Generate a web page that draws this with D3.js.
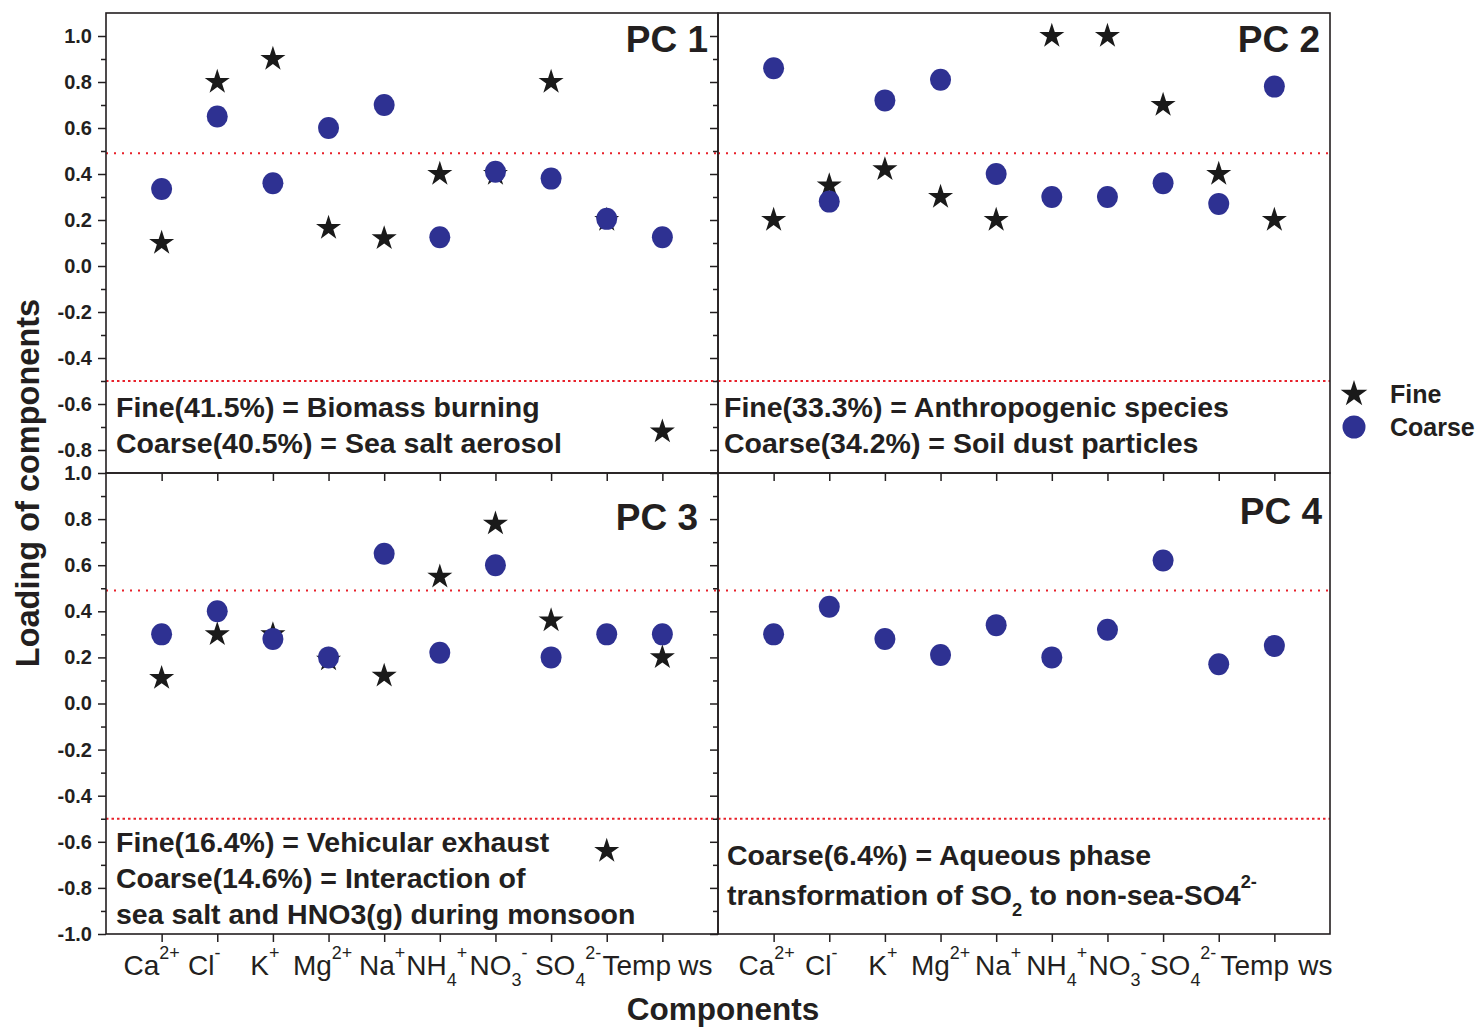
<!DOCTYPE html>
<html>
<head>
<meta charset="utf-8">
<script src="https://cdn.jsdelivr.net/npm/d3@7/dist/d3.min.js"></script>
<style>
  body { margin: 0; background: #fff; }
  text { font-family: Arial, 'Liberation Sans', sans-serif; fill: #231f20; }
</style>
</head>
<body>
<div id="canvas"></div>
<script>
// categories on the x axis (same for all four panels)
const categories = ['Ca2+', 'Cl-', 'K+', 'Mg2+', 'Na+', 'NH4+', 'NO3-', 'SO42-', 'Temp', 'ws'];
// rich tick labels: [text, 'sup' | 'sub' | undefined]
const tickLabels = [
  [['Ca'], ['2+', 'sup']],
  [['Cl'], ['-', 'sup']],
  [['K'], ['+', 'sup']],
  [['Mg'], ['2+', 'sup']],
  [['Na'], ['+', 'sup']],
  [['NH'], ['4', 'sub'], ['+', 'sup']],
  [['NO'], ['3', 'sub'], ['-', 'sup']],
  [['SO'], ['4', 'sub'], ['2-', 'sup']],
  [['Temp']],
  [['ws']]
];

// loadings
const pc1Fine   = [0.10, 0.80, 0.90, 0.165, 0.12, 0.40, 0.40, 0.80, 0.20, -0.72];
const pc1Coarse = [0.335, 0.65, 0.36, 0.60, 0.70, 0.125, 0.41, 0.38, 0.205, 0.125];
const pc2Fine   = [0.20, 0.35, 0.42, 0.30, 0.20, 1.00, 1.00, 0.70, 0.40, 0.20];
const pc2Coarse = [0.86, 0.28, 0.72, 0.81, 0.40, 0.30, 0.30, 0.36, 0.27, 0.78];
const pc3Fine   = [0.11, 0.30, 0.30, 0.19, 0.12, 0.55, 0.78, 0.36, -0.64, 0.20];
const pc3Coarse = [0.30, 0.40, 0.28, 0.20, 0.65, 0.22, 0.60, 0.20, 0.30, 0.30];
const pc4Coarse = [0.30, 0.42, 0.28, 0.21, 0.34, 0.20, 0.32, 0.62, 0.17, 0.25];

const pcTitles = ['PC 1', 'PC 2', 'PC 3', 'PC 4'];
const notes = [
  [[['Fine(41.5%) = Biomass burning']], [['Coarse(40.5%) = Sea salt aerosol']]],
  [[['Fine(33.3%) = Anthropogenic species']], [['Coarse(34.2%) = Soil dust particles']]],
  [[['Fine(16.4%) = Vehicular exhaust']], [['Coarse(14.6%) = Interaction of']], [['sea salt and HNO3(g) during monsoon']]],
  [[['Coarse(6.4%) = Aqueous phase']], [['transformation of SO'], ['2', 'sub'], [' to non-sea-SO4'], ['2-', 'sup']]]
];
const thresholds = [0.49, -0.5];
const seriesNames = ['Fine', 'Coarse'];

const w = 1477;
const h = 1027;
const blue = '#2e3192';
const black = '#1a1a1a';
const red = '#e8202a';

const cols = [{ x0: 106, x1: 718 }, { x0: 718, x1: 1330 }];
const rows = [
  { y0: 13, y1: 473, domain: [-0.9, 1.1], major: d3.range(-4, 6).map(i => i / 5), minor: d3.range(-7, 10, 2).map(i => i / 10) },
  { y0: 473, y1: 934, domain: [-1, 1], major: d3.range(-5, 6).map(i => i / 5), minor: d3.range(-9, 10, 2).map(i => i / 10) }
];
// label nudges so neighbouring labels do not collide (left column, right column)
const labelDx = [
  [-10, -13, -8, -6, -2, -3, 3, 17, 30, 33],
  [-7, -8, -2, 0, 2, 5, 10, 20, 36, 41]
];

const panels = [
  { col: 0, row: 0, fine: pc1Fine, coarse: pc1Coarse, title: pcTitles[0], note: notes[0], titlePos: [-10, 39], notePos: [10, 404] },
  { col: 1, row: 0, fine: pc2Fine, coarse: pc2Coarse, title: pcTitles[1], note: notes[1], titlePos: [-10, 39], notePos: [6, 404] },
  { col: 0, row: 1, fine: pc3Fine, coarse: pc3Coarse, title: pcTitles[2], note: notes[2], titlePos: [-20, 57], notePos: [10, 379] },
  { col: 1, row: 1, fine: null, coarse: pc4Coarse, title: pcTitles[3], note: notes[3], titlePos: [-8, 51], notePos: [9, 392] }
];

const svg = d3.select('#canvas')
  .append('svg')
  .attr('width', w)
  .attr('height', h);

// write text made of plain / sup / sub pieces into a text element
function richText(sel, segs, size) {
  let cur = 0;
  segs.forEach(s => {
    const kind = s[1];
    let off = 0, fs = size;
    if (kind === 'sup') { off = -0.58 * size; fs = 0.64 * size; }
    if (kind === 'sub') { off = 0.4 * size; fs = 0.64 * size; }
    sel.append('tspan')
      .attr('dy', off - cur)
      .style('font-size', fs + 'px')
      .text(s[0]);
    cur = off;
  });
}

const star = d3.symbol().type(d3.symbolStar).size(195);
const starBig = d3.symbol().type(d3.symbolStar).size(220);

panels.forEach(p => {
  const c = cols[p.col];
  const r = rows[p.row];
  const x = d3.scalePoint().domain(categories).range([c.x0, c.x1]).padding(1);
  const y = d3.scaleLinear().domain(r.domain).range([r.y1, r.y0]);
  const g = svg.append('g');

  // threshold lines
  g.append('line')
    .attr('x1', c.x0).attr('x2', c.x1)
    .attr('y1', y(thresholds[0])).attr('y2', y(thresholds[0]))
    .attr('stroke', red).attr('stroke-width', 2).attr('stroke-dasharray', '2,6');
  g.append('line')
    .attr('x1', c.x0).attr('x2', c.x1)
    .attr('y1', y(thresholds[1])).attr('y2', y(thresholds[1]))
    .attr('stroke', red).attr('stroke-width', 2).attr('stroke-dasharray', '2.5,3');

  // y axis: minor then major
  const yMinor = g.append('g')
    .attr('transform', 'translate(' + c.x0 + ',0)')
    .call(d3.axisLeft(y).tickValues(r.minor).tickSize(5).tickFormat(''));
  const yMajor = g.append('g')
    .attr('transform', 'translate(' + c.x0 + ',0)')
    .call(d3.axisLeft(y).tickValues(r.major).tickSize(8).tickPadding(6)
      .tickFormat(p.col === 0 ? (d => d.toFixed(1)) : ''));
  yMajor.selectAll('text')
    .style('font-size', '20px').style('font-weight', 'bold')
    .attr('fill', '#231f20');

  // x axis ticks
  const xAxisG = g.append('g')
    .attr('transform', 'translate(0,' + r.y1 + ')')
    .call(d3.axisBottom(x).tickSize(8).tickFormat(''));

  [yMinor, yMajor, xAxisG].forEach(a => {
    a.selectAll('.domain').remove();
    a.selectAll('line').attr('stroke', '#231f20').attr('stroke-width', 1.5);
  });

  // labels under bottom row
  if (p.row === 1) {
    categories.forEach((cat, i) => {
      const t = svg.append('text')
        .attr('x', x(cat) + labelDx[p.col][i])
        .attr('y', 975)
        .attr('text-anchor', 'middle')
        .style('font-size', '28px');
      richText(t, tickLabels[i], 28);
    });
  }

  // panel border
  g.append('rect')
    .attr('x', c.x0).attr('y', r.y0)
    .attr('width', c.x1 - c.x0).attr('height', r.y1 - r.y0)
    .attr('fill', 'none').attr('stroke', '#231f20').attr('stroke-width', 1.6);

  // markers: stars underneath, circles on top
  if (p.fine) {
    g.selectAll('path.fine')
      .data(p.fine)
      .enter()
      .append('path')
      .attr('class', 'fine')
      .attr('d', star)
      .attr('fill', black)
      .attr('transform', (d, i) => 'translate(' + x(categories[i]) + ',' + y(d) + ')');
  }
  g.selectAll('ellipse.coarse')
    .data(p.coarse)
    .enter()
    .append('ellipse')
    .attr('class', 'coarse')
    .attr('cx', (d, i) => x(categories[i]))
    .attr('cy', d => y(d))
    .attr('rx', 10.5)
    .attr('ry', 11)
    .attr('fill', blue);

  // panel title
  g.append('text')
    .attr('x', c.x1 + p.titlePos[0])
    .attr('y', r.y0 + p.titlePos[1])
    .attr('text-anchor', 'end')
    .style('font-size', '37px')
    .style('font-weight', 'bold')
    .text(p.title);

  // annotation lines
  p.note.forEach((line, i) => {
    const t = g.append('text')
      .attr('x', c.x0 + p.notePos[0])
      .attr('y', r.y0 + p.notePos[1] + i * (p.col === 1 && p.row === 1 ? 40 : 36))
      .style('font-size', '28.5px')
      .style('font-weight', 'bold');
    richText(t, line, 28.5);
  });
});

// axis titles
svg.append('text')
  .attr('transform', 'translate(39,483) rotate(-90)')
  .attr('text-anchor', 'middle')
  .style('font-size', '32.5px')
  .style('font-weight', 'bold')
  .text('Loading of components');

svg.append('text')
  .attr('x', 723)
  .attr('y', 1020)
  .attr('text-anchor', 'middle')
  .style('font-size', '31.5px')
  .style('font-weight', 'bold')
  .text('Components');

// legend
const legend = svg.append('g');
legend.append('path')
  .attr('d', starBig)
  .attr('fill', black)
  .attr('transform', 'translate(1354,394)');
legend.append('circle')
  .attr('cx', 1354).attr('cy', 427).attr('r', 11.5)
  .attr('fill', blue);
legend.selectAll('text')
  .data(seriesNames)
  .enter()
  .append('text')
  .attr('x', 1390)
  .attr('y', (d, i) => 403 + i * 33)
  .style('font-size', '25px')
  .style('font-weight', 'bold')
  .text(d => d);
</script>
</body>
</html>
